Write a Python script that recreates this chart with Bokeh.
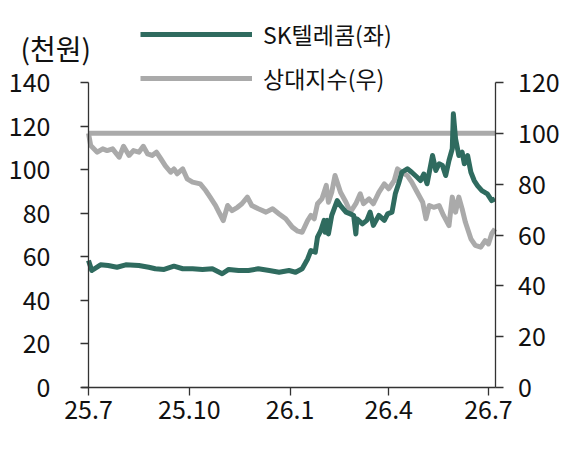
import pandas as pd
from bokeh.plotting import figure
from bokeh.models import (Range1d, LinearAxis, FixedTicker, Legend, LegendItem, Label)
from bokeh.embed import file_html
from bokeh.resources import INLINE

# ---------------- data ----------------
sk_dates = ["2025-07-01", "2025-07-04", "2025-07-12", "2025-07-19", "2025-07-27",
            "2025-08-04", "2025-08-16", "2025-08-25", "2025-08-31", "2025-09-08",
            "2025-09-17", "2025-09-25", "2025-10-04", "2025-10-13", "2025-10-22",
            "2025-10-31", "2025-11-06", "2025-11-15", "2025-11-24", "2025-12-03",
            "2025-12-13", "2025-12-22", "2025-12-31", "2026-01-06", "2026-01-12",
            "2026-01-17", "2026-01-20", "2026-01-24", "2026-01-26", "2026-01-29",
            "2026-02-01", "2026-02-02", "2026-02-04", "2026-02-05", "2026-02-08",
            "2026-02-13", "2026-02-16", "2026-02-21", "2026-02-25", "2026-02-28",
            "2026-03-02", "2026-03-03", "2026-03-08", "2026-03-12", "2026-03-15",
            "2026-03-18", "2026-03-23", "2026-03-28", "2026-03-31", "2026-04-04",
            "2026-04-07", "2026-04-10", "2026-04-13", "2026-04-18", "2026-04-22",
            "2026-04-27", "2026-04-30", "2026-05-03", "2026-05-06", "2026-05-11",
            "2026-05-14", "2026-05-17", "2026-05-20", "2026-05-23", "2026-05-26",
            "2026-05-29", "2026-05-30", "2026-06-01", "2026-06-04", "2026-06-07",
            "2026-06-09", "2026-06-12", "2026-06-15", "2026-06-18", "2026-06-21",
            "2026-06-25", "2026-06-30", "2026-07-04", "2026-07-07"]
sk_values = [58.3, 53.7, 56.3, 56.0, 55.2,
             56.3, 56.0, 55.2, 54.5, 54.2,
             55.7, 54.5, 54.5, 54.2, 54.5,
             52.2, 54.2, 53.7, 53.7, 54.5,
             53.7, 52.9, 53.7, 52.9, 54.5,
             59.0, 62.9, 62.1, 69.0, 72.0,
             76.7, 71.3, 76.7, 70.5, 79.0,
             85.8, 83.5, 80.5, 79.7, 79.0,
             70.5, 77.4, 75.1, 76.7, 80.5,
             74.4, 79.0, 76.7, 79.7, 80.5,
             88.9, 93.5, 98.8, 100.4, 98.8,
             96.5, 95.0, 98.0, 93.5, 106.5,
             99.6, 102.7, 101.9, 97.3, 104.2,
             109.6, 125.6, 114.2, 106.5, 108.0,
             102.7, 106.5, 98.8, 95.0, 92.7,
             90.4, 88.9, 85.8, 86.6]

rel_dates = ["2025-07-01", "2025-07-03", "2025-07-09", "2025-07-14", "2025-07-18",
             "2025-07-23", "2025-07-29", "2025-08-02", "2025-08-07", "2025-08-11",
             "2025-08-16", "2025-08-20", "2025-08-24", "2025-08-28", "2025-09-01",
             "2025-09-05", "2025-09-09", "2025-09-14", "2025-09-17", "2025-09-20",
             "2025-09-25", "2025-09-29", "2025-10-04", "2025-10-11", "2025-10-16",
             "2025-10-20", "2025-10-25", "2025-10-28", "2025-11-01", "2025-11-05",
             "2025-11-09", "2025-11-14", "2025-11-18", "2025-11-23", "2025-11-27",
             "2025-12-03", "2025-12-10", "2025-12-16", "2025-12-22", "2025-12-28",
             "2026-01-03", "2026-01-08", "2026-01-12", "2026-01-17", "2026-01-20",
             "2026-01-23", "2026-01-26", "2026-01-30", "2026-02-03", "2026-02-05",
             "2026-02-08", "2026-02-11", "2026-02-16", "2026-02-21", "2026-02-25",
             "2026-03-02", "2026-03-06", "2026-03-09", "2026-03-14", "2026-03-18",
             "2026-03-23", "2026-03-28", "2026-04-01", "2026-04-06", "2026-04-09",
             "2026-04-13", "2026-04-18", "2026-04-22", "2026-04-27", "2026-05-02",
             "2026-05-05", "2026-05-08", "2026-05-12", "2026-05-17", "2026-05-21",
             "2026-05-26", "2026-05-29", "2026-06-01", "2026-06-04", "2026-06-07",
             "2026-06-10", "2026-06-15", "2026-06-19", "2026-06-24", "2026-06-28",
             "2026-07-01", "2026-07-04", "2026-07-07"]
rel_values = [100.0, 95.2, 92.6, 93.9, 93.2,
              93.9, 90.6, 94.9, 91.3, 93.2,
              92.6, 94.9, 91.9, 91.3, 92.6,
              90.0, 87.3, 84.7, 86.0, 84.1,
              86.0, 82.1, 80.8, 80.1, 77.5,
              74.9, 71.6, 69.0, 65.7, 71.6,
              69.6, 70.9, 72.3, 74.9, 71.6,
              70.3, 69.0, 70.3, 68.3, 66.4,
              63.1, 61.5, 61.1, 65.7, 67.7,
              66.4, 72.3, 74.2, 79.5, 72.9,
              76.8, 83.4, 76.8, 72.9, 69.0,
              72.3, 76.2, 72.3, 74.2, 72.3,
              76.8, 80.1, 78.2, 81.4, 86.0,
              84.7, 83.4, 80.8, 76.8, 72.9,
              66.4, 71.6, 70.9, 71.6, 67.7,
              63.7, 74.9, 69.0, 74.9, 70.3,
              65.0, 58.5, 55.9, 55.2, 57.8,
              56.5, 60.5, 62.4]

base_level = 100  # reference level of the relative index (right axis)

tick_dates = ["2025-07-01", "2025-10-01", "2026-01-01", "2026-04-01", "2026-07-01"]
tick_labels = ["25.7", "25.10", "26.1", "26.4", "26.7"]
x_start_date, x_end_date = "2025-07-01", "2026-07-07"

left_ticks = [0, 20, 40, 60, 80, 100, 120, 140]
right_ticks = [0, 20, 40, 60, 80, 100, 120]
left_max, right_max = 140, 120

# ---------------- helpers ----------------
origin = pd.Timestamp(x_start_date)
def to_days(ds):
    return [float((pd.Timestamp(d) - origin).days) for d in ds]

sk_x = to_days(sk_dates)
rel_x = to_days(rel_dates)
tick_x = to_days(tick_dates)
x_end = to_days([x_end_date])[0]

# page geometry (pixels): axes box inside a full-canvas frame
W, H = 578, 471
AX_L, AX_R, AX_T, AX_B = 88, 494.5, 82, 387
kx = (AX_R - AX_L) / x_end
ky_l = (AX_B - AX_T) / left_max
ky_r = (AX_B - AX_T) / right_max

GREEN = "#2f6b5f"
GRAY = "#aaaaaa"
FONT = "Noto Sans CJK KR"
TXT = "#111111"

p = figure(width=W, height=H, output_backend="svg", toolbar_location=None,
           x_range=Range1d(-AX_L / kx, (W - AX_L) / kx),
           y_range=Range1d(-(H - AX_B) / ky_l, AX_B / ky_l),
           x_axis_location=None, y_axis_location=None,
           min_border=0, min_border_left=0, min_border_right=0,
           min_border_top=0, min_border_bottom=0)
p.extra_y_ranges = {"right": Range1d(-(H - AX_B) / ky_r, AX_B / ky_r)}
p.grid.visible = False
p.outline_line_color = None
p.background_fill_color = "white"
p.border_fill_color = "white"

def style_axis(ax):
    ax.axis_line_color = "#333333"
    ax.axis_line_width = 1.3
    ax.major_tick_line_color = "#333333"
    ax.major_tick_line_width = 1.3
    ax.major_tick_in = 0
    ax.major_tick_out = 8
    ax.minor_tick_line_color = None
    ax.major_label_text_font = FONT
    ax.major_label_text_font_size = "25px"
    ax.major_label_text_color = TXT

xa = LinearAxis(ticker=FixedTicker(ticks=tick_x), fixed_location=0,
                bounds=(-7 / kx, x_end))
style_axis(xa)
xa.major_label_overrides = {t: l for t, l in zip(tick_x, tick_labels)}
xa.major_label_standoff = 4
p.add_layout(xa, "below")

ya = LinearAxis(ticker=FixedTicker(ticks=left_ticks), fixed_location=0,
                bounds=(0, left_max))
style_axis(ya)
ya.major_label_standoff = 30
p.add_layout(ya, "left")

ra = LinearAxis(y_range_name="right", ticker=FixedTicker(ticks=right_ticks),
                fixed_location=x_end, bounds=(0, right_max))
style_axis(ra)
ra.major_label_standoff = 15
p.add_layout(ra, "right")

# reference line at 100 (right axis)
p.line([0, x_end], [base_level, base_level], y_range_name="right",
       line_color=GRAY, line_width=5)

r_rel = p.line(rel_x, rel_values, y_range_name="right", line_color=GRAY,
               line_width=5, line_join="round")
r_sk = p.line(sk_x, sk_values, line_color=GREEN, line_width=5, line_join="round")

legend = Legend(items=[LegendItem(label="SK텔레콤(좌)", renderers=[r_sk]),
                       LegendItem(label="상대지수(우)", renderers=[r_rel])],
                location=(140, H - 95), orientation="vertical",
                glyph_width=112, glyph_height=30, label_height=30,
                spacing=10, padding=0, margin=0, label_standoff=11,
                label_text_font=FONT, label_text_font_size="23px",
                label_text_color=TXT,
                background_fill_alpha=0, border_line_color=None)
p.add_layout(legend, "center")

unit = Label(x=20, y=H - 47, x_units="screen", y_units="screen", text="(천원)",
             text_font=FONT, text_font_size="28px", text_color=TXT,
             text_baseline="middle")
p.add_layout(unit)

open("out.html", "w").write(file_html(p, INLINE))
